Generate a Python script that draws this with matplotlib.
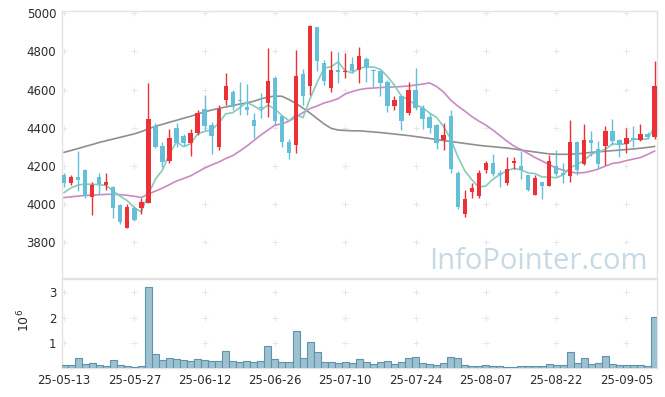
import matplotlib
matplotlib.use("Agg")
import matplotlib.pyplot as plt
import numpy as np
import pandas as pd

# trading days (KRX): 2025-05-13 .. 2025-09-11, minus market holidays
HOLIDAYS = ["2025-06-03", "2025-06-06", "2025-08-15"]
dates = pd.bdate_range("2025-05-13", "2025-09-11", freq="C", holidays=HOLIDAYS)

open_ = [4150, 4110, 4140, 4180, 4035, 4140, 4100, 4090, 3995, 3875,
         3980, 3980, 4005, 4410, 4305, 4225, 4400, 4355, 4320, 4375,
         4500, 4415, 4300, 4545, 4590, 4545, 4510, 4440, 4510, 4530,
         4660, 4460, 4325, 4310, 4680, 4620, 4930, 4740, 4610, 4705,
         4690, 4735, 4705, 4760, 4705, 4695, 4640, 4515, 4565, 4475,
         4600, 4505, 4455, 4415, 4335, 4460, 4165, 3950, 4065, 4040,
         4180, 4215, 4165, 4110, 4215, 4200, 4150, 4050, 4115, 4095,
         4200, 4165, 4145, 4325, 4210, 4335, 4290, 4305, 4385, 4335,
         4315, 4345, 4335, 4365, 4350]
high = [4165, 4155, 4280, 4185, 4115, 4165, 4165, 4095, 4000, 4000,
        3990, 4030, 4635, 4425, 4325, 4395, 4425, 4365, 4395, 4495,
        4570, 4430, 4520, 4685, 4600, 4640, 4630, 4475, 4580, 4820,
        4670, 4460, 4340, 4810, 4710, 4940, 4930, 4755, 4800, 4795,
        4790, 4770, 4825, 4770, 4710, 4705, 4650, 4565, 4570, 4640,
        4715, 4520, 4475, 4420, 4425, 4495, 4175, 4075, 4110, 4180,
        4225, 4260, 4180, 4245, 4245, 4280, 4155, 4155, 4115, 4255,
        4285, 4215, 4440, 4330, 4420, 4385, 4330, 4410, 4445, 4340,
        4400, 4410, 4420, 4380, 4750]
low = [4090, 4100, 4070, 4030, 3945, 4055, 4075, 3925, 3895, 3875,
       3910, 3950, 4005, 4295, 4195, 4215, 4300, 4305, 4250, 4360,
       4390, 4265, 4285, 4520, 4495, 4465, 4465, 4345, 4450, 4455,
       4415, 4300, 4235, 4270, 4520, 4570, 4695, 4625, 4585, 4635,
       4660, 4685, 4635, 4640, 4615, 4565, 4485, 4495, 4390, 4465,
       4495, 4395, 4370, 4290, 4285, 4165, 3975, 3930, 4030, 4030,
       4165, 4145, 4090, 4100, 4185, 4130, 4070, 4045, 4025, 4095,
       4145, 4110, 4115, 4150, 4205, 4250, 4185, 4205, 4310, 4245,
       4270, 4300, 4330, 4340, 4340]
close = [4110, 4140, 4125, 4040, 4100, 4105, 4115, 3980, 3905, 3985,
         3915, 4010, 4445, 4300, 4220, 4345, 4320, 4320, 4375, 4480,
         4410, 4355, 4500, 4620, 4510, 4540, 4495, 4410, 4505, 4645,
         4435, 4325, 4270, 4670, 4565, 4935, 4750, 4645, 4705, 4690,
         4700, 4700, 4775, 4720, 4700, 4635, 4515, 4545, 4435, 4600,
         4505, 4445, 4400, 4320, 4360, 4185, 3985, 4025, 4085, 4165,
         4215, 4160, 4150, 4185, 4225, 4180, 4075, 4135, 4095, 4225,
         4160, 4150, 4325, 4180, 4335, 4320, 4210, 4385, 4330, 4315,
         4345, 4335, 4365, 4350, 4620]
# volume in millions of shares
volume_m = [0.12, 0.12, 0.40, 0.16, 0.20, 0.12, 0.08, 0.32, 0.12, 0.08,
            0.04, 0.08, 3.21, 0.56, 0.32, 0.40, 0.36, 0.32, 0.28, 0.36,
            0.32, 0.28, 0.28, 0.67, 0.28, 0.24, 0.28, 0.24, 0.28, 0.87,
            0.36, 0.24, 0.24, 1.47, 0.40, 1.03, 0.63, 0.24, 0.24, 0.20,
            0.24, 0.20, 0.36, 0.24, 0.16, 0.24, 0.28, 0.16, 0.24, 0.40,
            0.44, 0.20, 0.16, 0.12, 0.20, 0.44, 0.40, 0.12, 0.08, 0.08,
            0.12, 0.08, 0.08, 0.04, 0.04, 0.08, 0.08, 0.08, 0.08, 0.16,
            0.12, 0.12, 0.63, 0.20, 0.40, 0.16, 0.20, 0.48, 0.16, 0.12,
            0.12, 0.12, 0.12, 0.08, 2.02]
# first four 5-day averages need closes from before the window
ma5_head = [4060, 4085, 4100, 4105]
ma20 = [4034, 4038, 4042, 4045, 4047, 4049, 4051, 4052, 4049, 4046,
        4041, 4034, 4053, 4068, 4084, 4102, 4121, 4134, 4148, 4168,
        4189, 4205, 4220, 4239, 4254, 4278, 4304, 4333, 4362, 4388,
        4414, 4420, 4435, 4456, 4480, 4501, 4514, 4530, 4540, 4553,
        4577, 4590, 4600, 4606, 4608, 4611, 4612, 4614, 4616, 4619,
        4624, 4629, 4635, 4616, 4587, 4545, 4514, 4488, 4459, 4435,
        4414, 4388, 4359, 4330, 4304, 4286, 4265, 4244, 4226, 4207,
        4189, 4178, 4168, 4163, 4165, 4173, 4184, 4199, 4213, 4218,
        4228, 4236, 4244, 4260, 4278]
ma60 = [4271, 4281, 4291, 4302, 4312, 4323, 4332, 4341, 4350, 4359,
        4368, 4380, 4394, 4408, 4418, 4429, 4439, 4450, 4460, 4472,
        4483, 4493, 4501, 4509, 4517, 4524, 4531, 4539, 4551, 4561,
        4566, 4565, 4548, 4527, 4503, 4477, 4448, 4420, 4397, 4388,
        4386, 4384, 4384, 4381, 4378, 4375, 4371, 4367, 4363, 4359,
        4354, 4349, 4344, 4338, 4333, 4328, 4323, 4318, 4313, 4308,
        4304, 4301, 4297, 4294, 4289, 4283, 4278, 4273, 4268, 4263,
        4261, 4261, 4261, 4263, 4267, 4271, 4274, 4277, 4280, 4283,
        4286, 4289, 4293, 4297, 4302]

UP, DOWN = "#ec3035", "#66bfd8"
GRID = "#e4e4e4"
SPINE = "#e3e3e3"

df = pd.DataFrame({"open": open_, "high": high, "low": low, "close": close,
                   "vol": volume_m}, index=dates)
ma5 = df["close"].rolling(5).mean().to_numpy()
ma5[:4] = ma5_head
x = np.arange(len(df))
up = df["close"].to_numpy() >= df["open"].to_numpy()
colors = np.where(up, UP, DOWN)

fig = plt.figure(figsize=(6.65, 3.97), dpi=100)
ax = fig.add_axes([0.0928, 0.2985, 0.8952, 0.6738])
axv = fig.add_axes([0.0928, 0.073, 0.8952, 0.2235], sharex=ax)

# moving averages
ax.plot(x, ma60, color="#8f8f8f", lw=1.2, zorder=2)
ax.plot(x, ma20, color="#c98ac2", lw=1.2, zorder=2)
ax.plot(x, ma5, color="#86cbbb", lw=1.2, zorder=2)

# candles
ax.vlines(x, df["low"], df["high"], colors=colors, lw=1.0, zorder=3)
body = np.maximum((df["close"] - df["open"]).abs().to_numpy(), 4)
bottom = np.minimum(df["close"], df["open"]).to_numpy()
ax.bar(x, body, bottom=bottom, width=0.62, color=colors, lw=0, zorder=4)

axv.bar(x, df["vol"], width=1.0, color="#9dc1d1", edgecolor="#5f93ab",
        lw=0.8, zorder=3)

xt = np.arange(0, len(df), 10)
ax.set_xlim(-0.33, 84.35)
ax.set_ylim(3610, 5012)
axv.set_ylim(0, 3.52)
ax.set_yticks(np.arange(3800, 5001, 200))
axv.set_yticks([1, 2, 3])
axv.set_xticks(xt)
axv.set_xticklabels(dates[xt].strftime("%y-%m-%d"))

for a in (ax, axv):
    a.tick_params(length=0, labelsize=8.5, colors="#2b2b2b", pad=4)
    for s in a.spines.values():
        s.set_color(SPINE)
        s.set_linewidth(1.0)
    # "+" grid marks at tick crossings
    gx, gy = np.meshgrid(xt, a.get_yticks())
    a.scatter(gx.ravel(), gy.ravel(), marker="+", s=16, lw=0.6,
              color=GRID, zorder=1)
plt.setp(ax.get_xticklabels(), visible=False)

axv.set_ylabel("$10^{6}$", fontsize=9, color="#2b2b2b")
axv.yaxis.set_label_coords(-0.05, 0.54)

fig.text(648 / 665, 1 - 269 / 397, "InfoPointer.com", family="Open Sans",
         fontsize=21, color="#c6d9e4", ha="right", va="baseline", zorder=0)

fig.savefig("out.png", dpi=100)
